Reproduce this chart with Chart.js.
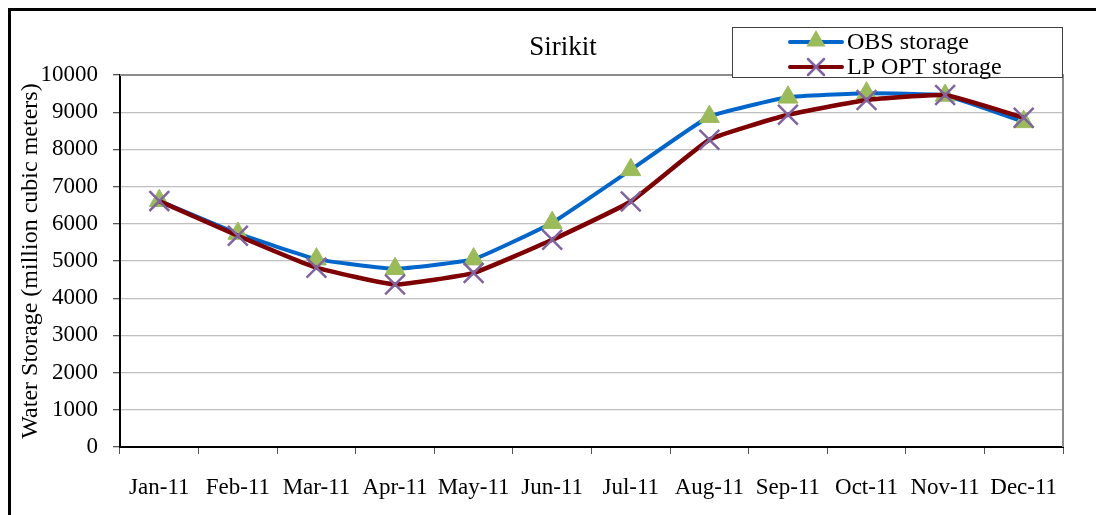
<!DOCTYPE html>
<html><head><meta charset="utf-8">
<script src="https://cdn.jsdelivr.net/npm/chart.js@4"></script>
<style>html,body{margin:0;padding:0;background:#fff;}#wrap{width:1096px;height:515px;position:relative;}</style>
</head><body><div id="wrap"><canvas id="c" width="1096" height="515"></canvas></div>
<script>
const categories = ['Jan-11','Feb-11','Mar-11','Apr-11','May-11','Jun-11','Jul-11','Aug-11','Sep-11','Oct-11','Nov-11','Dec-11'];
const obsStorage = [6620, 5740, 5050, 4790, 5050, 6030, 7450, 8880, 9400, 9510, 9450, 8740];
const lpOptStorage = [6610, 5680, 4820, 4370, 4680, 5570, 6600, 8260, 8930, 9330, 9460, 8850];
const yTicks = [0,1000,2000,3000,4000,5000,6000,7000,8000,9000,10000];
const chartTitle = 'Sirikit';
const yAxisTitle = 'Water Storage (million cubic meters)';
const seriesNames = ['OBS storage','LP OPT storage'];

const FONT = "'Liberation Serif', 'Times New Roman', serif";
const OBS_LINE = '#0066CC', OBS_MARK = '#9BBB59';
const LP_LINE = '#7F0000', LP_MARK = '#8064A2';

function drawTri(ctx, x, y, r, color){
  ctx.save(); ctx.fillStyle = color; ctx.beginPath();
  ctx.moveTo(x, y - r); ctx.lineTo(x + r*0.866, y + r*0.5); ctx.lineTo(x - r*0.866, y + r*0.5);
  ctx.closePath(); ctx.fill(); ctx.restore();
}
function drawX(ctx, x, y, h, color){
  ctx.save(); ctx.strokeStyle = color; ctx.lineWidth = 2.5; ctx.beginPath();
  ctx.moveTo(x-h, y-h); ctx.lineTo(x+h, y+h); ctx.moveTo(x+h, y-h); ctx.lineTo(x-h, y+h);
  ctx.stroke(); ctx.restore();
}

const decor = {
  id: 'decor',
  beforeDatasetsDraw(chart){
    const ctx = chart.ctx, a = chart.chartArea;
    ctx.save();
    ctx.strokeStyle = '#8c8c8c'; ctx.lineWidth = 2;
    ctx.beginPath(); ctx.moveTo(a.left, a.top); ctx.lineTo(a.right, a.top); ctx.lineTo(a.right, a.bottom); ctx.stroke();
    ctx.restore();
  },
  afterDraw(chart){
    const ctx = chart.ctx;
    ctx.save();
    ctx.fillStyle = '#000'; ctx.font = '27px ' + FONT; ctx.textAlign = 'center'; ctx.textBaseline = 'middle';
    ctx.fillText(chartTitle, 563, 48);
    ctx.fillStyle = '#fff'; ctx.fillRect(732, 27, 330, 50);
    ctx.strokeStyle = '#404040'; ctx.lineWidth = 1; ctx.strokeRect(732.5, 27.5, 330, 50);
    const rows = [
      {y: 42, name: seriesNames[0], line: OBS_LINE, mk: 'tri'},
      {y: 67, name: seriesNames[1], line: LP_LINE, mk: 'x'}
    ];
    rows.forEach(r => {
      ctx.strokeStyle = r.line; ctx.lineWidth = 4; ctx.lineCap = 'round';
      ctx.beginPath(); ctx.moveTo(790, r.y); ctx.lineTo(842, r.y); ctx.stroke();
      if (r.mk === 'tri') drawTri(ctx, 816, r.y - 1, 11, OBS_MARK); else drawX(ctx, 816, r.y, 8, LP_MARK);
      ctx.fillStyle = '#000'; ctx.font = '24px ' + FONT; ctx.textAlign = 'left'; ctx.textBaseline = 'middle';
      ctx.fillText(r.name, 847, r.y + 1);
    });
    ctx.strokeStyle = '#000'; ctx.lineWidth = 3; ctx.lineCap = 'butt';
    ctx.beginPath(); ctx.moveTo(9.5, 515); ctx.lineTo(9.5, 9.5); ctx.lineTo(1096, 9.5); ctx.stroke();
    ctx.restore();
  }
};

new Chart(document.getElementById('c'), {
  type: 'line',
  data: {
    labels: categories,
    datasets: [
      {label: seriesNames[0], data: obsStorage, borderColor: OBS_LINE, borderWidth: 4, tension: 0.12,
       pointStyle: 'triangle', pointRadius: 11.5, pointBackgroundColor: OBS_MARK, pointBorderColor: OBS_MARK, pointBorderWidth: 1, order: 2},
      {label: seriesNames[1], data: lpOptStorage, borderColor: LP_LINE, borderWidth: 4.5, tension: 0.12,
       pointStyle: 'crossRot', pointRadius: 14, pointBorderColor: LP_MARK, pointBackgroundColor: LP_MARK, pointBorderWidth: 2.5, order: 1}
    ]
  },
  options: {
    responsive: false, animation: false, devicePixelRatio: 1,
    layout: {padding: {left: 10, top: 75, right: 33, bottom: 0}},
    plugins: {legend: {display: false}, title: {display: false}, tooltip: {enabled: false}},
    scales: {
      x: {
        offset: true,
        grid: {offset: true, drawOnChartArea: false, drawTicks: true, tickLength: 7, color: '#555'},
        border: {color: '#000', width: 2},
        ticks: {color: '#000', font: {family: FONT, size: 23}, padding: 20, maxRotation: 0, autoSkip: false},
        afterFit: s => { s.height = 68; }
      },
      y: {
        min: 0, max: 10000,
        afterBuildTicks: s => { s.ticks = yTicks.map(v => ({value: v})); },
        grid: {color: '#bfbfbf', lineWidth: 1.3, tickLength: 7, tickColor: '#555'},
        border: {color: '#000', width: 2},
        ticks: {color: '#000', font: {family: FONT, size: 23}, padding: 15, callback: v => String(v)},
        title: {display: true, text: yAxisTitle, color: '#000', font: {family: FONT, size: 24}, padding: {top: 6, bottom: 0}},
        afterFit: s => { s.width = 110; }
      }
    }
  },
  plugins: [decor]
});
</script></body></html>
